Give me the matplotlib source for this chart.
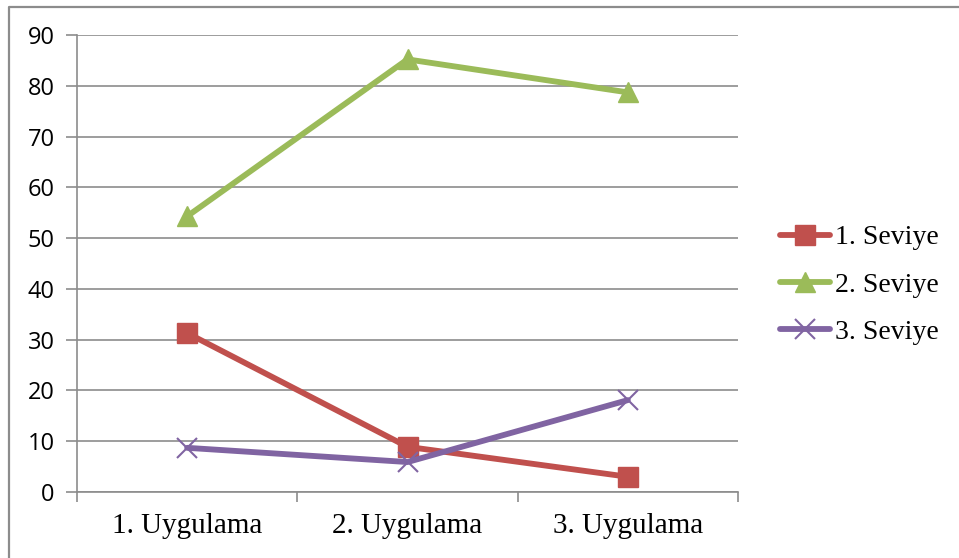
import matplotlib.pyplot as plt
from matplotlib.lines import Line2D

categories = ["1. Uygulama", "2. Uygulama", "3. Uygulama"]
series_names = ["1. Seviye", "2. Seviye", "3. Seviye"]
seviye1 = [31.3, 8.9, 3.0]
seviye2 = [54.3, 85.2, 78.7]
seviye3 = [8.7, 5.9, 18.1]
y_ticks = list(range(0, 100, 10))

colors = ["#C0504D", "#9BBB59", "#8064A2"]
markers = ["s", "^", "x"]

fig = plt.figure(figsize=(9.59, 5.58), dpi=100)
ax = fig.add_axes([77 / 959, 66 / 558, 661 / 959, 457 / 558])

# chart frame: only the top and left edges fall inside the image
frame_x = [1.0, 8.5 / 959, 8.5 / 959]
frame_y = [1 - 6.5 / 558, 1 - 6.5 / 558, 0.0]
fig.add_artist(Line2D(frame_x, frame_y, transform=fig.transFigure,
                      color="#8c8c8c", linewidth=1.6))

x = list(range(len(categories)))
for vals, name, c, m in zip([seviye1, seviye2, seviye3], series_names,
                            colors, markers):
    if m == "x":
        ax.plot(x, vals, color=c, linewidth=4.2, marker=m, markersize=14,
                markeredgewidth=1.5, label=name, solid_capstyle="round",
                zorder=3)
    else:
        ax.plot(x, vals, color=c, linewidth=4.2, marker=m, markersize=14,
                markeredgecolor=c, label=name, solid_capstyle="round",
                zorder=3)

ax.set_xlim(-0.5, 2.5)
ax.set_ylim(0, 90)
ax.set_yticks(y_ticks)
ax.set_yticklabels([str(v) for v in y_ticks], family="Open Sans", fontsize=17)
ax.grid(axis="y", color="#8c8c8c", linewidth=1.2)
ax.set_axisbelow(True)

ax.set_xticks(x)
ax.set_xticklabels(categories, family="Liberation Serif", fontsize=21)
ax.set_xticks([-0.5, 0.5, 1.5, 2.5], minor=True)
ax.tick_params(axis="x", which="major", length=0, pad=15)
ax.tick_params(axis="x", which="minor", length=7, width=1.2, color="#8c8c8c")
ax.tick_params(axis="y", length=8, width=1.2, color="#8c8c8c", pad=8)

for side in ["top", "right"]:
    ax.spines[side].set_visible(False)
for side in ["left", "bottom"]:
    ax.spines[side].set_color("#8c8c8c")
    ax.spines[side].set_linewidth(1.2)

ax.legend(loc="center left", bbox_to_anchor=(780 / 959, 1 - 285 / 558),
          bbox_transform=fig.transFigure, frameon=False, borderpad=0,
          borderaxespad=0, prop={"family": "Liberation Serif", "size": 20},
          handlelength=1.8, handletextpad=0.18, labelspacing=0.79)

fig.savefig("out.png", dpi=100)
